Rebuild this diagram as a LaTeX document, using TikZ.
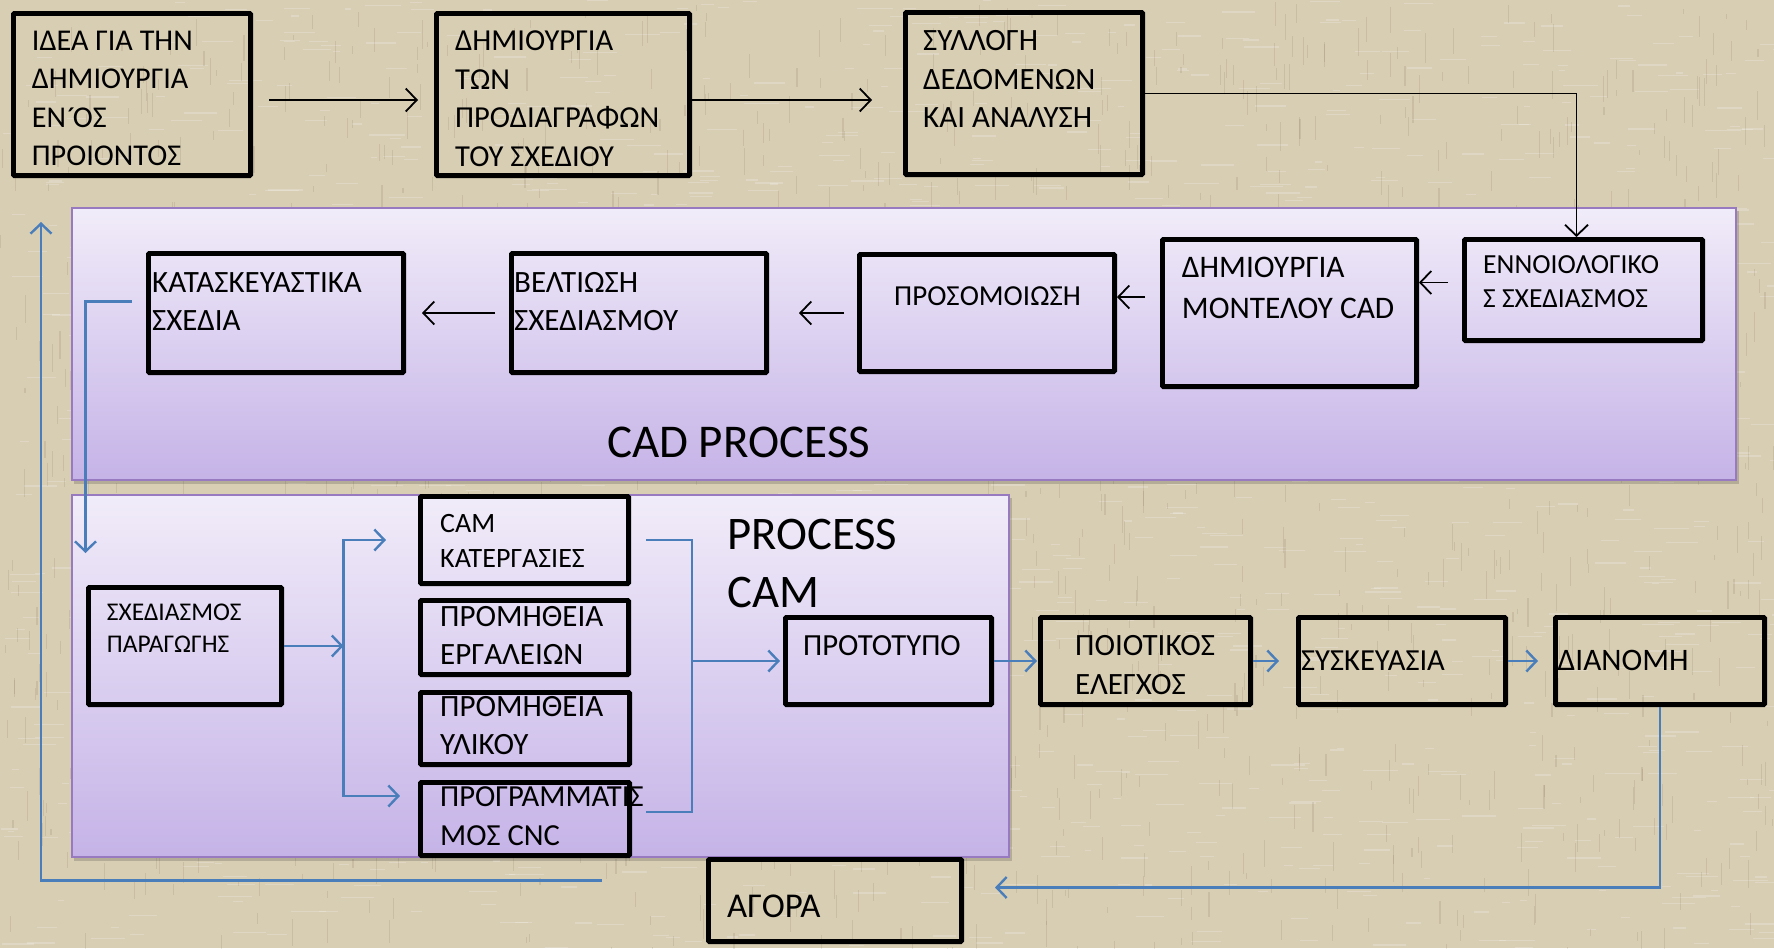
\documentclass[tikz,border=0pt]{standalone}
\usepackage{fontspec}
\setmainfont{Carlito}
\usetikzlibrary{arrows.meta}
\definecolor{bg}{RGB}{216,206,180}
\definecolor{paneltop}{RGB}{241,236,249}
\definecolor{panelbot}{RGB}{197,179,231}
\definecolor{panelborder}{RGB}{152,122,192}
\definecolor{cblue}{RGB}{74,126,187}
\tikzset{
  box/.style={draw=black, line width=4.8pt, rounded corners=1pt, inner sep=0pt, anchor=north west},
  panel/.style={draw=panelborder, line width=1.8pt, top color=paneltop, bottom color=panelbot, inner sep=0pt, anchor=north west},
  txt/.style={inner sep=0pt, anchor=north west, align=left},
  blk/.style={draw=black, line width=1.8pt, -{Straight Barb[length=11pt,width=23pt,line width=1.8pt]}},
  blu/.style={draw=cblue, line width=2.2pt, -{Straight Barb[length=10pt,width=21pt,line width=2.4pt]}},
  bline/.style={draw=cblue, line width=2.2pt},
}
\newcommand\mkbox[6][box]{\node[#1, minimum width={#5-#3-4.8}, minimum height={#6-#4-4.8}] (#2) at (#3,#4) {};}
\newcommand\fs[2]{\fontsize{#1}{#2}\selectfont}
% north of first line = baseline - 0.632*size
\newcommand\tx[6]{\node[txt, font=\fs{#4}{#5}] (#1) at ({#2},{#3-0.632*#4}) {#6};}
\begin{document}
\begin{tikzpicture}[x=1pt,y=-1pt]
\useasboundingbox (0,0) rectangle (1774,948);
\fill[bg] (0,0) rectangle (1774,948);
% linen texture
\pgfmathsetseed{11}
\foreach \i in {1,...,1400} {
  \pgfmathsetmacro\xx{rnd*1774}\pgfmathsetmacro\yy{rnd*948}\pgfmathsetmacro\ll{6+rnd*30}
  \draw[white, opacity=0.2, line width=1.2pt] (\xx,\yy) -- ++(\ll,0);
}
\foreach \i in {1,...,1400} {
  \pgfmathsetmacro\xx{rnd*1774}\pgfmathsetmacro\yy{rnd*948}\pgfmathsetmacro\ll{5+rnd*25}
  \draw[black!60!brown, opacity=0.1, line width=1.1pt] (\xx,\yy) -- ++(0,\ll);
}
% panel shadows
\fill[black,opacity=0.16] (74,211) rectangle (1739,484);
\fill[black,opacity=0.16] (74,498) rectangle (1012,861);
% panels
\node[panel, minimum width=1664pt, minimum height=272pt] (cadpanel) at (71,207) {};
\node[panel, minimum width=937pt, minimum height=362pt] (campanel) at (71,494) {};
% boxes
\mkbox{b1}{11}{11}{253}{178}
\mkbox{b2}{434}{11}{692}{178}
\mkbox{b3}{903}{10}{1145}{177}
\mkbox{kat}{146}{251}{406}{375}
\mkbox{velt}{509}{251}{769}{375}
\mkbox{pros}{857}{252}{1117}{374}
\mkbox{dim}{1160}{237}{1419}{389}
\mkbox{enn}{1462}{237}{1705}{343}
\mkbox{sxed}{86}{585}{284}{707}
\mkbox{cam1}{418}{494}{631}{586}
\mkbox{cam2}{418}{598}{631}{677}
\mkbox{cam3}{418}{690}{632}{767}
\mkbox{cnc}{418}{780}{632}{858}
\mkbox{prot}{783}{615}{994}{707}
\mkbox{poi}{1038}{615}{1253}{707}
\mkbox{sys}{1296}{615}{1508}{707}
\mkbox{dian}{1553}{615}{1767}{707}
\mkbox{agora}{706}{857}{964}{944}
% texts: name, left, first baseline, size, baselineskip, text
\tx{t1}{31.7}{50}{30.2}{38.5}{ΙΔΕΑ ΓΙΑ ΤΗΝ\\ΔΗΜΙΟΥΡΓΙΑ\\ΕΝ\kern1pt\raisebox{-1pt}{\char"00B4}\kern-3pt ΟΣ\\ΠΡΟΙΟΝΤΟΣ}
\tx{t2}{455}{50}{30.5}{38.5}{ΔΗΜΙΟΥΡΓΙΑ\\ΤΩΝ\\ΠΡΟΔΙΑΓΡΑΦΩΝ\\ΤΟΥ ΣΧΕΔΙΟΥ}
\tx{t3}{923}{50}{31}{38.4}{ΣΥΛΛΟΓΗ\\ΔΕΔΟΜΕΝΩΝ\\ΚΑΙ ΑΝΑΛΥΣΗ}
\tx{tkat}{152}{291.7}{31}{38.3}{ΚΑΤΑΣΚΕΥΑΣΤΙΚΑ\\ΣΧΕΔΙΑ}
\tx{tvelt}{514}{291.7}{31}{38.3}{ΒΕΛΤΙΩΣΗ\\ΣΧΕΔΙΑΣΜΟΥ}
\tx{tpros}{894}{305}{29}{36}{ΠΡΟΣΟΜΟΙΩΣΗ}
\tx{tdim}{1181.7}{277}{31.4}{40.3}{ΔΗΜΙΟΥΡΓΙΑ\\ΜΟΝΤΕΛΟΥ CAD}
\tx{tenn}{1483}{273}{27.6}{34}{ΕΝΝΟΙΟΛΟΓΙΚΟ\\Σ ΣΧΕΔΙΑΣΜΟΣ}
\tx{tcad}{607}{456.7}{47}{56}{CAD PROCESS}
\tx{tsxed}{106.7}{620}{25.5}{31.7}{ΣΧΕΔΙΑΣΜΟΣ\\ΠΑΡΑΓΩΓΗΣ}
\tx{tcam1}{440}{532.3}{28}{35}{CAM\\ΚΑΤΕΡΓΑΣΙΕΣ}
\tx{tcam2}{440}{625.7}{31}{38.3}{ΠΡΟΜΗΘΕΙΑ\\ΕΡΓΑΛΕΙΩΝ}
\tx{tcam3}{440}{716}{31}{37.3}{ΠΡΟΜΗΘΕΙΑ\\ΥΛΙΚΟΥ}
\tx{tcnc}{440}{806}{30.6}{39}{ΠΡΟΓΡΑΜΜΑΤΙΣ\\ΜΟΣ CNC}
\tx{tproc}{727}{548.3}{46.7}{58.4}{PROCESS\\CAM}
\tx{tprot}{803}{655}{30.7}{38}{ΠΡΟΤΟΤΥΠΟ}
\tx{tpoi}{1075}{655}{31}{38.3}{ΠΟΙΟΤΙΚΟΣ\\ΕΛΕΓΧΟΣ}
\tx{tsys}{1301}{670}{30.6}{38}{ΣΥΣΚΕΥΑΣΙΑ}
\tx{tdian}{1557.5}{670}{31.3}{38}{ΔΙΑΝΟΜΗ}
\tx{tag}{727}{916.7}{34.8}{40}{ΑΓΟΡΑ}
% junction coordinates
\coordinate (jl) at ([xshift=59.5pt]sxed.east);
\coordinate (jr) at ([xshift=-91pt]prot.west);
\coordinate (fbend) at (41,222);
% black connectors
\draw[blk, shorten <=16pt, shorten >=16pt] ([yshift=-5.5pt]b1.east) -- ([yshift=-5.5pt]b2.west);
\draw[blk, shorten >=31pt] ([yshift=-5.5pt]b2.east) -- ([yshift=-5.5pt]b2.east -| b3.west);
\draw[blk] (b3.east) -| ([xshift=-7pt]enn.north);
\draw[blk, shorten <=14pt] ([yshift=7.5pt]enn.west) -- ([yshift=7.5pt]enn.west -| dim.east);
\draw[blk, shorten <=15pt] ([yshift=16pt]dim.west) -- ([yshift=16pt]dim.west -| pros.east);
\draw[blk, shorten <=13pt, shorten >=30pt] (pros.west) -- (velt.east);
\draw[blk, shorten <=14pt, shorten >=16pt] (velt.west) -- (kat.east);
% blue connectors
\draw[blu, shorten <=14pt, shorten >=32pt] ([yshift=11.5pt]kat.west) -| ([xshift=-0.5pt]sxed.north west);
\draw[blu] (sxed.east) -- (jl);
\draw[blu, shorten >=32pt] (jl) |- (cam1.west);
\draw[blu, shorten >=18pt] (jl) |- ([yshift=23pt]cnc.west);
\draw[bline, shorten <=15pt] (cam1.east) -| (jr);
\draw[bline, shorten <=14pt] ([yshift=7pt]cnc.east) -| (jr);
\draw[blu, shorten >=3pt] (jr) -- (prot.west);
\draw[blu, shorten >=1pt] (prot.east) -- (poi.west);
\draw[blu, shorten >=17pt] (poi.east) -- (sys.west);
\draw[blu, shorten >=15pt] (sys.east) -- (dian.west);
\draw[blu, shorten >=31pt] (dian.south) |- ([yshift=13pt]agora.east);
\draw[blu, shorten <=104pt] ([yshift=20pt]agora.west) -| (fbend);
\end{tikzpicture}
\end{document}
